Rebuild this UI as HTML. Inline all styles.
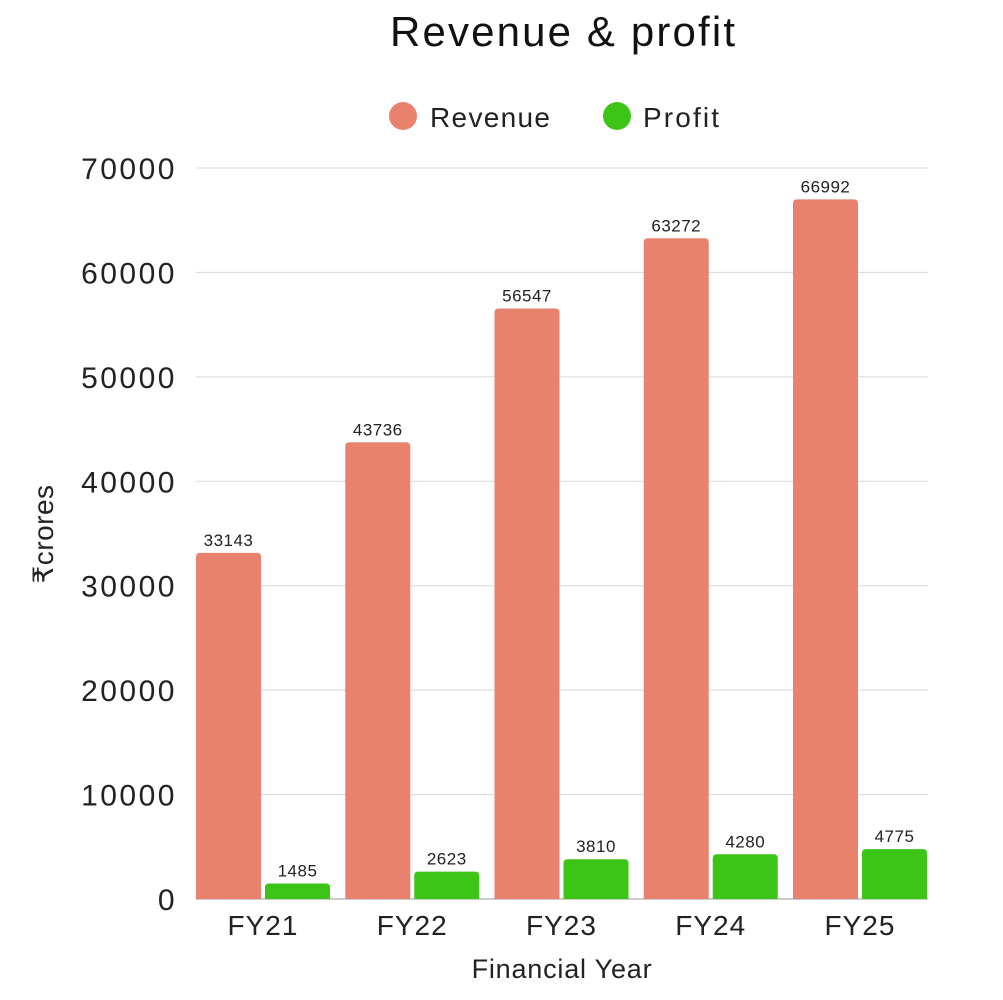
<!DOCTYPE html>
<html><head><meta charset="utf-8"><style>
body{margin:0;background:#fff;width:1003px;height:995px;overflow:hidden}
svg{font-family:"Liberation Sans","DejaVu Sans",sans-serif}
</style></head><body>
<svg id="c" width="1003" height="995">
<text x="390" y="46" textLength="345" font-size="42" fill="#111">Revenue &amp; profit</text>
<g>
<circle cx="403" cy="116" r="14" fill="#E8826D"/>
<text x="430" y="127" textLength="120" font-size="28" fill="#222">Revenue</text>
<circle cx="617" cy="116" r="14" fill="#3CC417"/>
<text x="643" y="127" textLength="76" font-size="28" fill="#222">Profit</text>
</g>
<text transform="translate(53,534) rotate(-90)" text-anchor="middle" font-size="28" letter-spacing="0.5" fill="#222">₹crores</text>
<text x="562" y="978" text-anchor="middle" font-size="27" letter-spacing="0.8" fill="#222">Financial Year</text>
<g id="grid"></g><g id="bars"></g>
</svg>
<script>
const categories=["FY21","FY22","FY23","FY24","FY25"];
const revenue=[33143,43736,56547,63272,66992];
const profit=[1485,2623,3810,4280,4775];
const yTicks=[0,10000,20000,30000,40000,50000,60000,70000];
const NS="http://www.w3.org/2000/svg";
const y0=899,yTop=168,yMax=70000;
const y=v=>y0-(v/yMax)*(y0-yTop);
const x=i=>263+i*149.25;
const grid=document.getElementById('grid'),bars=document.getElementById('bars');
function mk(tag,attrs,parent){const e=document.createElementNS(NS,tag);for(const k in attrs)e.setAttribute(k,attrs[k]);parent.appendChild(e);return e;}
yTicks.forEach(t=>{
 const l=mk('line',{x1:196,x2:928,y1:y(t),y2:y(t),stroke:t===0?'#999':'#d8d8d8','stroke-width':1},grid);
 
 
 const tx=mk('text',{x:177,y:y(t)+11,'text-anchor':'end','font-size':30,'letter-spacing':2.5,fill:'#222'},grid);
 tx.textContent=t;
 
 
});
categories.forEach((c,i)=>{
 const cx=x(i);
 [[revenue[i],'#E8826D',cx-67,'revenue'],[profit[i],'#3CC417',cx+2,'profit']].forEach(([v,col,bx,nm])=>{
  const r=mk('path',{d:`M${bx},${y0} V${y(v)+4} Q${bx},${y(v)} ${bx+4},${y(v)} H${bx+61} Q${bx+65},${y(v)} ${bx+65},${y(v)+4} V${y0} Z`,fill:col},bars);
  
  
  const t=mk('text',{x:bx+32.5,y:y(v)-7,'text-anchor':'middle','font-size':17,'letter-spacing':0.5,fill:'#222'},bars);
  t.textContent=v;
  
  
 });
 const l=mk('text',{x:cx,y:935,'text-anchor':'middle','font-size':28,'letter-spacing':1,fill:'#222'},bars);
 l.textContent=c;
 
 
});
</script>
</body></html>
